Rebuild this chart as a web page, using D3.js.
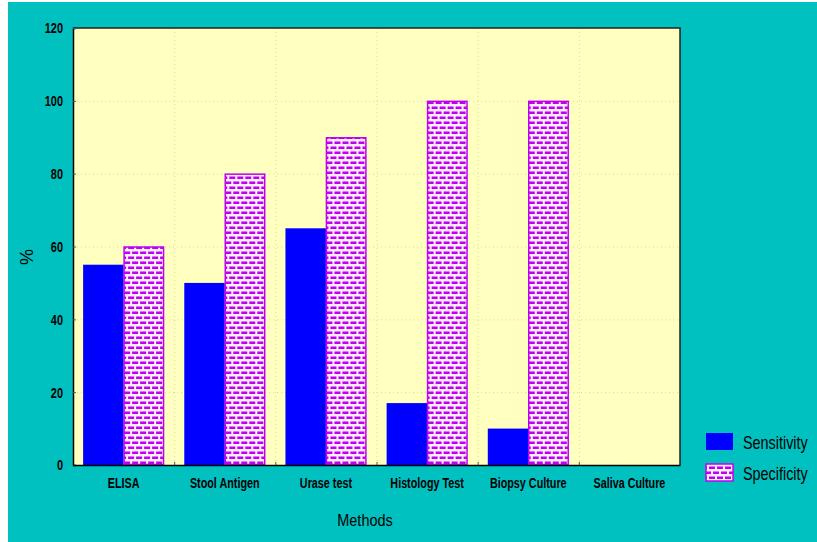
<!DOCTYPE html>
<html><head><meta charset="utf-8">
<script src="https://cdn.jsdelivr.net/npm/d3@7"></script>
<style>
html,body{margin:0;padding:0;background:#fff;}
svg{display:block;}
</style></head>
<body>
<svg id="chart" width="817" height="542"></svg>
<script>
const categories = ["ELISA","Stool Antigen","Urase test","Histology Test","Biopsy Culture","Saliva Culture"];
const seriesNames = ["Sensitivity","Specificity"];
const sensitivity = [55,50,65,17,10,0];
const specificity = [60,80,90,100,100,0];
const yTicks = [0,20,40,60,80,100,120];

const svg = d3.select("#chart");
const W = 817, H = 542;
const font = "'Liberation Sans',Arial,sans-serif";

function condense(sel, f){
  sel.each(function(){
    const len = this.getComputedTextLength();
    d3.select(this).attr("textLength", len*f).attr("lengthAdjust","spacingAndGlyphs");
  });
}

svg.append("rect").attr("x",8).attr("y",2).attr("width",W-8).attr("height",H-2).attr("fill","#00C0C0");

const defs = svg.append("defs");
const pat = defs.append("pattern").attr("id","brick").attr("patternUnits","userSpaceOnUse")
  .attr("width",8).attr("height",10);
pat.append("rect").attr("width",8).attr("height",10).attr("fill","#FFF0FF");
function brick(px,py){
  pat.append("rect").attr("x",px).attr("y",py).attr("width",6).attr("height",1).attr("fill","#E070FF");
  pat.append("rect").attr("x",px).attr("y",py+1).attr("width",6).attr("height",2).attr("fill","#C000F0");
}
brick(1,1); brick(5,6); brick(-3,6);

const m = {left:73, top:28, right:680, bottom:465};
const x = d3.scaleBand().domain(categories).range([m.left,m.right]).paddingInner(0.2).paddingOuter(0.1);
const xStep = d3.scaleBand().domain(categories).range([m.left,m.right]);
const xs = d3.scaleBand().domain(seriesNames).range([0,x.bandwidth()]);
const y = d3.scaleLinear().domain([0,120]).range([m.bottom,m.top]);

// plot background
svg.append("rect").attr("x",m.left).attr("y",m.top).attr("width",m.right-m.left).attr("height",m.bottom-m.top)
  .attr("fill","#FFFFC0");

// gridlines
svg.append("g").selectAll("line").data(yTicks.filter(d=>d>0&&d<120)).join("line")
  .attr("x1",m.left).attr("x2",m.right).attr("y1",d=>y(d)+0.5).attr("y2",d=>y(d)+0.5)
  .attr("stroke","#D8D8A8").attr("stroke-width",1).attr("stroke-dasharray","1,3");
svg.append("g").selectAll("line").data(categories.slice(1)).join("line")
  .attr("x1",d=>xStep(d)+0.5).attr("x2",d=>xStep(d)+0.5).attr("y1",m.top).attr("y2",m.bottom)
  .attr("stroke","#D8D8A8").attr("stroke-width",1).attr("stroke-dasharray","1,3");

// bars
const groups = svg.append("g").selectAll("g").data(categories).join("g")
  .attr("transform",d=>`translate(${x(d)},0)`);
groups.append("rect")
  .attr("x",xs("Sensitivity")).attr("width",xs.bandwidth())
  .attr("y",(d,i)=>y(sensitivity[i])).attr("height",(d,i)=>m.bottom-y(sensitivity[i]))
  .attr("fill","#0000FF");
groups.append("rect")
  .attr("x",xs("Specificity")+0.5).attr("width",xs.bandwidth()-1)
  .attr("y",(d,i)=>y(specificity[i])+0.5).attr("height",(d,i)=>Math.max(0,m.bottom-y(specificity[i])-1))
  .attr("fill","url(#brick)").attr("stroke",(d,i)=>specificity[i]>0?"#C000F0":"none").attr("stroke-width",1.5);

// frame: top/right dark
svg.append("path").attr("d",`M${m.left},${m.top}H${m.right}V${m.bottom}`)
  .attr("fill","none").attr("stroke","#202020").attr("stroke-width",1.5);

// axes
const yAxis = d3.axisLeft(y).tickValues(yTicks).tickSize(-3).tickPadding(10).tickFormat(d3.format("d"));
const gy = svg.append("g").attr("transform",`translate(${m.left},0)`).call(yAxis);
gy.select(".domain").attr("stroke","#000").attr("stroke-width",1.5);
gy.selectAll(".tick line").attr("stroke","#555");
gy.selectAll("text").attr("font-family",font).attr("font-weight","bold").attr("font-size",14).attr("fill","#000")
  .attr("dy","0.35em");
condense(gy.selectAll("text"), 0.78);

const xAxis = d3.axisBottom(xStep).tickSize(0).tickPadding(13);
const gx = svg.append("g").attr("transform",`translate(0,${m.bottom})`).call(xAxis);
gx.select(".domain").attr("stroke","#000").attr("stroke-width",1.5);
gx.selectAll("text").attr("font-family",font).attr("font-weight","bold").attr("font-size",14).attr("fill","#000");
condense(gx.selectAll("text"), 0.77);
// boundary ticks
svg.append("g").selectAll("line").data(categories.slice(1)).join("line")
  .attr("x1",d=>xStep(d)+0.5).attr("x2",d=>xStep(d)+0.5).attr("y1",m.bottom).attr("y2",m.bottom-3)
  .attr("stroke","#555");

// axis titles
svg.append("text").attr("transform",`translate(33,257) rotate(-90)`)
  .attr("text-anchor","middle").attr("font-family",font).attr("font-size",18)
  .attr("fill","#000").text("%");
svg.append("text").attr("transform","translate(365,526) scale(0.85,1)").attr("text-anchor","middle")
  .attr("font-family",font).attr("font-size",17).attr("fill","#000").text("Methods");

// legend
const lg = svg.append("g");
const legendItems = seriesNames.map((n,i)=>({name:n,i}));
lg.selectAll("rect").data(legendItems).join("rect")
  .attr("x",706).attr("y",d=>433+d.i*31).attr("width",27).attr("height",17)
  .attr("fill",d=>d.i===0?"#0000FF":"url(#brick)")
  .attr("stroke",d=>d.i===0?"none":"#C000F0").attr("stroke-width",1.5);
lg.selectAll("text").data(legendItems).join("text")
  .attr("transform",d=>`translate(743,${449+d.i*31}) scale(0.8,1)`)
  .attr("font-family",font).attr("font-size",18).attr("fill","#000").text(d=>d.name);
</script>
</body></html>
